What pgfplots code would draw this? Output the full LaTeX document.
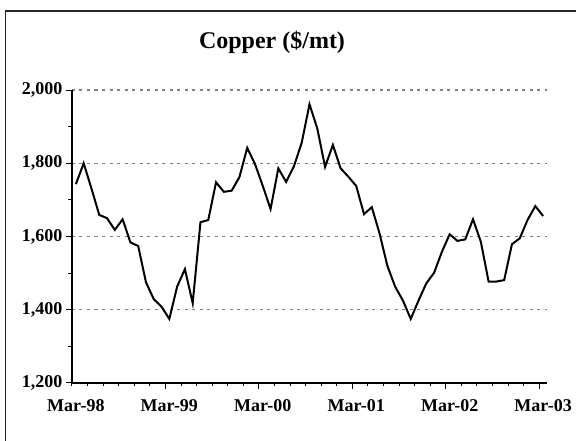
\documentclass[border=0pt]{standalone}
\usepackage{fontspec}
\setmainfont{Liberation Serif}
\usepackage{pgfplots}
\pgfplotsset{compat=1.18}
\begin{document}
\begin{tikzpicture}
\path[use as bounding box] (0pt,0pt) rectangle (576pt,441pt);
\draw[line width=1.4pt, black!85] (5.5pt,-5pt) rectangle (590pt,430pt);
\node[font=\bfseries\fontsize{24}{28}\selectfont] at (272pt,399pt) {Copper (\$/mt)};
\begin{axis}[
  at={(72pt,58pt)}, anchor=south west,
  scale only axis, width=475pt, height=293pt,
  xmin=-0.5, xmax=60.5, ymin=1200, ymax=2000,
  axis x line*=bottom, axis y line*=left,
  axis line style={line width=1.3pt, black},
  tick align=outside,
  tick style={line width=1pt, black},
  major tick length=6pt, minor tick length=3.5pt,
  ytick={1200,1400,...,2000}, minor ytick={1300,1500,1700,1900},
  xtick={11.5,23.5,35.5,47.5,59.5}, xticklabels={},
  minor xtick={-0.5,1.5,...,59.5},
  extra x ticks={0,12,24,36,48,60},
  extra x tick labels={Mar-98,Mar-99,Mar-00,Mar-01,Mar-02,Mar-03},
  extra x tick style={major tick length=0pt, grid=none,
    tick label style={yshift=-13pt}},
  ymajorgrids,
  major grid style={line width=1.4pt, gray, dash pattern=on 3pt off 4.5pt},
  ticklabel style={font=\bfseries\fontsize{18}{21}\selectfont},
  /pgf/number format/assume math mode=true,
  /pgf/number format/1000 sep={,},
  clip=false,
]
\addplot[black, line width=2pt, mark=none] coordinates {
(0,1743)(1,1800)(2,1731)(3,1659)(4,1650)(5,1618)(6,1647)(7,1584)(8,1574)(9,1475)
(10,1429)(11,1408)(12,1375)(13,1463)(14,1511)(15,1418)(16,1639)(17,1645)(18,1748)(19,1722)
(20,1725)(21,1762)(22,1842)(23,1798)(24,1738)(25,1675)(26,1786)(27,1749)(28,1792)(29,1856)
(30,1961)(31,1895)(32,1790)(33,1850)(34,1786)(35,1763)(36,1738)(37,1661)(38,1680)(39,1608)
(40,1520)(41,1463)(42,1425)(43,1375)(44,1425)(45,1472)(46,1501)(47,1558)(48,1606)(49,1588)
(50,1592)(51,1647)(52,1586)(53,1477)(54,1477)(55,1481)(56,1579)(57,1595)(58,1645)(59,1683)
(60,1656)
};
\end{axis}
\end{tikzpicture}
\end{document}
